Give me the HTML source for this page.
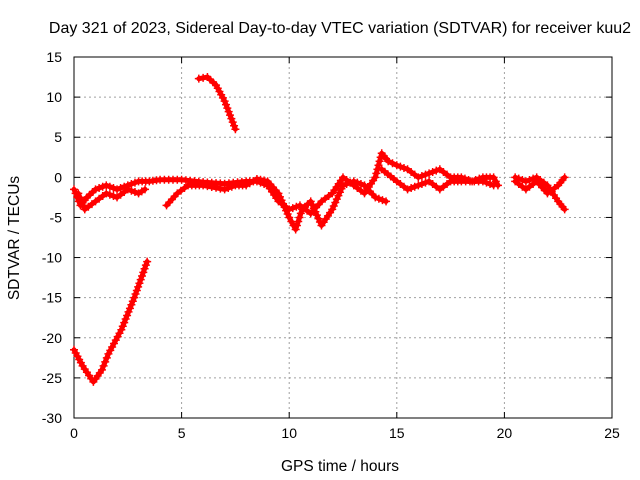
<!DOCTYPE html>
<html><head><meta charset="utf-8"><style>
body{margin:0;background:#fff}
svg{display:block;font-family:"Liberation Sans",sans-serif;font-size:14px}
</style></head><body>
<svg id="chart" width="640" height="480">
<text x="340" y="33" text-anchor="middle" font-size="16">Day 321 of 2023, Sidereal Day-to-day VTEC variation (SDTVAR) for receiver kuu2</text>
<text x="340" y="471" text-anchor="middle" font-size="15.5">GPS time / hours</text>
<text transform="translate(19,238) rotate(-90)" text-anchor="middle" font-size="15.5">SDTVAR / TECUs</text>
<g id="grid"></g>
<g id="axes"></g>
<g id="series"></g>
</svg>
<script>
const xTicks=[0,5,10,15,20,25];
const yTicks=[15,10,5,0,-5,-10,-15,-20,-25,-30];
const trackA=[[0,-21.5],[0.4,-23.5],[0.9,-25.5],[1.3,-24],[1.6,-22],[2.2,-19],[2.8,-15],[3.4,-10.5]];
const trackB=[[5.8,12.3],[6.2,12.5],[6.6,11.5],[7.0,9.5],[7.5,6]];
const trackC=[[0,-1.5],[0.3,-3.5],[0.6,-2.5],[1,-1.5],[1.5,-1],[2,-1.5],[2.5,-1],[3,-0.5],[3.5,-0.5],[4,-0.3],[5,-0.3],[6,-0.6],[7,-0.8],[8,-0.5],[8.5,-0.5],[9,-1],[9.5,-3],[10,-4],[10.5,-3.5],[11,-4.5],[11.5,-3],[12,-2],[12.5,0],[13,-1],[13.5,-2],[14,0],[14.3,3],[14.6,2],[15,1.5],[15.5,1],[16,0],[16.5,0.5],[17,1],[17.5,0],[18,0],[18.5,-0.5],[19,0],[19.5,0],[19.7,-1]];
const trackD=[[0.2,-2],[0.5,-4],[1,-3],[1.5,-2],[2,-2.5],[2.5,-1.5],[3,-2],[3.3,-1.5]];
const trackE=[[4.3,-3.5],[4.8,-2],[5.3,-1],[6,-1],[7,-1.5],[7.5,-1],[8,-1],[8.5,-0.2],[9,-0.5],[9.5,-2],[10,-5],[10.3,-6.5],[10.6,-4],[11,-3],[11.5,-6],[12,-4],[12.5,-1],[13,-0.5],[13.5,-1],[14,-2.5],[14.5,-3]];
const trackF=[[14.3,1],[15,-0.5],[15.5,-1.5],[16,-1],[16.5,-0.5],[17,-1.5],[17.5,-0.5],[18,-0.5],[19,-0.5],[19.5,-1]];
const trackG=[[20.5,0],[21,-0.5],[21.5,0],[22,-1],[22.5,-3],[22.8,-4]];
const trackH=[[20.5,-0.5],[21,-1.5],[21.5,-0.5],[22,-2],[22.5,-1],[22.8,0]];
const tracks=[trackA,trackB,trackC,trackD,trackE,trackF,trackG,trackH];
const X0=74,X1=612,Y0=418,Y1=57;
const sx=v=>X0+(v-0)/25*(X1-X0);
const sy=v=>Y0-(v+30)/45*(Y0-Y1);
const NS="http://www.w3.org/2000/svg";
function mk(t,a,p){const e=document.createElementNS(NS,t);for(const k in a)e.setAttribute(k,a[k]);p.appendChild(e);return e;}
const grid=document.getElementById('grid'),axes=document.getElementById('axes'),ser=document.getElementById('series');
xTicks.forEach(t=>{const x=sx(t);
 if(t>0&&t<25){const l=mk('line',{x1:x,x2:x,y1:Y1,y2:Y0,stroke:'#a0a0a0','stroke-dasharray':'2,3'},grid);}
 mk('line',{x1:x,x2:x,y1:Y0,y2:Y0-6,stroke:'#000'},axes);mk('line',{x1:x,x2:x,y1:Y1,y2:Y1+6,stroke:'#000'},axes);
 const tx=mk('text',{x:x,y:Y0+20,'text-anchor':'middle'},axes);tx.textContent=t;
 });
yTicks.forEach(t=>{const y=sy(t);
 if(t>-30&&t<15){const l=mk('line',{x1:X0,x2:X1,y1:y,y2:y,stroke:'#a0a0a0','stroke-dasharray':'2,3'},grid);}
 mk('line',{x1:X0,x2:X0+6,y1:y,y2:y,stroke:'#000'},axes);mk('line',{x1:X1,x2:X1-6,y1:y,y2:y,stroke:'#000'},axes);
 const tx=mk('text',{x:X0-12,y:y+5,'text-anchor':'end'},axes);tx.textContent=t;
 });
mk('rect',{x:X0,y:Y1,width:X1-X0,height:Y0-Y1,fill:'none',stroke:'#000'},axes);
tracks.forEach((tr,i)=>{
 const g=mk('g',{},ser);
 
 
 mk('polyline',{points:tr.map(p=>sx(p[0])+','+sy(p[1])).join(' '),fill:'none',stroke:'#ff0000','stroke-width':5,'stroke-linejoin':'round','stroke-linecap':'round'},g);
 let d='';
 for(let k=0;k<tr.length-1;k++){const ax=sx(tr[k][0]),ay=sy(tr[k][1]),bx=sx(tr[k+1][0]),by=sy(tr[k+1][1]);
  const n=Math.max(1,Math.round(Math.hypot(bx-ax,by-ay)/4));
  for(let j=0;j<=n;j++){const x=ax+(bx-ax)*j/n,y=ay+(by-ay)*j/n;d+=`M${x-4},${y}h8M${x},${y-4}v8`;}}
 mk('path',{d:d,stroke:'#ff0000','stroke-width':1.5,fill:'none'},g);
});
</script>
</body></html>
